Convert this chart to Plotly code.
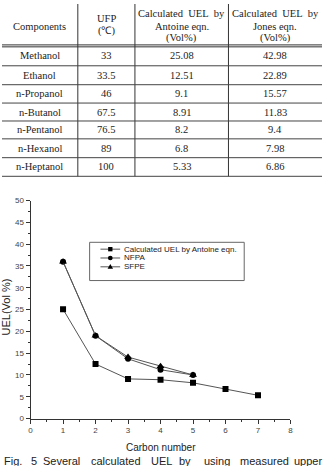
import plotly.graph_objects as go

# ---------------- data ----------------
components = ["Methanol", "Ethanol", "n-Propanol", "n-Butanol", "n-Pentanol", "n-Hexanol", "n-Heptanol"]
ufp = ["33", "33.5", "46", "67.5", "76.5", "89", "100"]
antoine_uel = [25.08, 12.51, 9.1, 8.91, 8.2, 6.8, 5.33]
jones_uel = [42.98, 22.89, 15.57, 11.83, 9.4, 7.98, 6.86]
carbon = [1, 2, 3, 4, 5, 6, 7]
ref_carbon = [1, 2, 3, 4, 5]
nfpa_uel = [36, 19, 13.7, 11.2, 10.0]
sfpe_uel = [36, 19, 14.1, 12.0, 10.0]
x_ticks = [0, 1, 2, 3, 4, 5, 6, 7, 8]
y_ticks = [0, 5, 10, 15, 20, 25, 30, 35, 40, 45, 50]

# ---------------- layout helpers ----------------
W, H = 325, 466
def px(x):
    return x / W
def py(y):
    return 1 - y / H

SERIF = "Liberation Serif"
SANS = "Liberation Sans"
TXT = "#222"

fig = go.Figure()

line_col = "#555"
fig.add_trace(go.Scatter(x=carbon, y=antoine_uel, mode="lines+markers",
                         line=dict(color=line_col, width=1),
                         marker=dict(symbol="square", size=6, color="black"),
                         name="Calculated UEL by Antoine eqn.", showlegend=False))
fig.add_trace(go.Scatter(x=ref_carbon, y=nfpa_uel, mode="lines+markers",
                         line=dict(color=line_col, width=1),
                         marker=dict(symbol="circle", size=6, color="black"),
                         name="NFPA", showlegend=False))
fig.add_trace(go.Scatter(x=ref_carbon, y=sfpe_uel, mode="lines+markers",
                         line=dict(color=line_col, width=1),
                         marker=dict(symbol="triangle-up", size=7, color="black"),
                         name="SFPE", showlegend=False))

shapes = []
annotations = []

# ---------------- table ----------------
col_x = [0, 77, 135, 230, 325]
row_y = [0, 42.7, 63, 82.3, 101, 119.3, 137.5, 156.7, 175.7]
for cx in col_x[1:-1]:
    shapes.append(dict(type="line", xref="paper", yref="paper",
                       x0=px(cx), x1=px(cx), y0=py(0), y1=py(row_y[-1]),
                       line=dict(color="#333", width=1)))
# header double line
shapes.append(dict(type="line", xref="paper", yref="paper",
                   x0=0, x1=1, y0=py(row_y[1] - 1), y1=py(row_y[1] - 1),
                   line=dict(color="#333", width=1)))
shapes.append(dict(type="line", xref="paper", yref="paper",
                   x0=0, x1=1, y0=py(row_y[1] + 1), y1=py(row_y[1] + 1),
                   line=dict(color="#333", width=1)))
for ry in row_y[2:]:
    shapes.append(dict(type="line", xref="paper", yref="paper",
                       x0=0, x1=1, y0=py(ry), y1=py(ry),
                       line=dict(color="#444", width=1)))

def cell_text(text, cx, cy, size=10.5, family=SERIF):
    annotations.append(dict(text=text, xref="paper", yref="paper",
                            x=px(cx), y=py(cy), xanchor="center", yanchor="middle",
                            showarrow=False, font=dict(family=family, size=size, color=TXT)))

centers = [(col_x[i] + col_x[i + 1]) / 2 for i in range(4)]
cell_text("Components", centers[0], 22.5)
cell_text("UFP", centers[1], 15)
cell_text("(℃)", centers[1], 28)
cell_text("Calculated\u00a0 UEL\u00a0 by", centers[2], 10)
cell_text("Antoine eqn.", centers[2], 22.5)
cell_text("(Vol%)", centers[2], 34.5)
cell_text("Calculated\u00a0 UEL\u00a0 by", centers[3], 10)
cell_text("Jones eqn.", centers[3], 22.5)
cell_text("(Vol%)", centers[3], 34.5)
for i in range(len(components)):
    cy = (row_y[i + 1] + row_y[i + 2]) / 2
    cell_text(components[i], centers[0], cy)
    cell_text(ufp[i], centers[1], cy)
    cell_text(f"{antoine_uel[i]:g}", centers[2], cy)
    cell_text(f"{jones_uel[i]:g}", centers[3], cy)

# ---------------- chart axes ----------------
x0_px, x1_px = 29, 293
y0_px, y1_px = 422.7, 200.5
axis_col = "#333"
fig.update_xaxes(domain=[px(x0_px), px(x1_px)], range=[0, 8],
                 tickvals=x_ticks, ticks="outside", ticklen=4, tickcolor=axis_col,
                 showline=True, linecolor=axis_col, linewidth=1, showgrid=False, zeroline=False,
                 tickfont=dict(family=SANS, size=8, color="#444"),
                 minor=dict(dtick=0.5, tick0=0, ticks="outside", ticklen=2, tickcolor=axis_col),
                 fixedrange=True)
fig.update_yaxes(domain=[py(y0_px), py(y1_px)], range=[0, 50],
                 tickvals=y_ticks, ticks="outside", ticklen=4, tickcolor=axis_col,
                 showline=True, linecolor=axis_col, linewidth=1, showgrid=False, zeroline=False,
                 tickfont=dict(family=SANS, size=8, color="#444"),
                 minor=dict(dtick=2.5, tick0=0, ticks="outside", ticklen=2, tickcolor=axis_col),
                 fixedrange=True)

annotations.append(dict(text="Carbon number", xref="paper", yref="paper",
                        x=px((x0_px + x1_px) / 2 + 0.5), y=py(452), xanchor="center", yanchor="middle",
                        showarrow=False, font=dict(family=SANS, size=10, color=TXT)))
annotations.append(dict(text="UEL(Vol %)", xref="paper", yref="paper", textangle=-90,
                        x=px(4.5), y=py(309), xanchor="center", yanchor="middle",
                        showarrow=False, font=dict(family=SANS, size=11, color=TXT)))

# ---------------- legend (manual) ----------------
shapes.append(dict(type="rect", xref="paper", yref="paper",
                   x0=px(89), x1=px(246), y0=py(243), y1=py(282),
                   line=dict(color="#666", width=1), fillcolor="white", layer="above"))
legend_names = ["Calculated UEL by Antoine eqn.", "NFPA", "SFPE"]
legend_y = [250, 259, 268]
for name, ly, sym in zip(legend_names, legend_y, ["square", "circle", "triangle"]):
    shapes.append(dict(type="line", xref="paper", yref="paper", layer="above",
                       x0=px(100), x1=px(120), y0=py(ly), y1=py(ly),
                       line=dict(color=line_col, width=1)))
    if sym == "square":
        shapes.append(dict(type="rect", xref="paper", yref="paper", layer="above",
                           x0=px(107.8), x1=px(112.2), y0=py(ly - 2.2), y1=py(ly + 2.2),
                           fillcolor="black", line=dict(width=0)))
    elif sym == "circle":
        shapes.append(dict(type="circle", xref="paper", yref="paper", layer="above",
                           x0=px(107.6), x1=px(112.4), y0=py(ly - 2.4), y1=py(ly + 2.4),
                           fillcolor="black", line=dict(width=0)))
    else:
        path = (f"M {px(110)},{py(ly - 3)} L {px(112.8)},{py(ly + 2)} "
                f"L {px(107.2)},{py(ly + 2)} Z")
        shapes.append(dict(type="path", xref="paper", yref="paper", layer="above",
                           path=path, fillcolor="black", line=dict(width=0)))
    annotations.append(dict(text=name, xref="paper", yref="paper",
                            x=px(121.5), y=py(ly), xanchor="left", yanchor="middle",
                            showarrow=False, font=dict(family=SANS, size=8, color=TXT)))

# ---------------- caption (cut at bottom, as in the reference) ----------------
cap_words = ["Fig.", "5", "Several", "calculated", "UEL", "by", "using", "measured", "upper"]
cap_x = [0, 27, 40, 88, 149, 178, 203, 240, 295]
for wd, cx in zip(cap_words, cap_x):
    annotations.append(dict(text=wd, xref="paper", yref="paper",
                            x=px(cx), y=py(466), xanchor="left", yanchor="middle",
                            showarrow=False,
                            font=dict(family=SANS, size=11, color=TXT)))

fig.update_layout(width=W, height=H, margin=dict(l=0, r=0, t=0, b=0),
                  paper_bgcolor="white", plot_bgcolor="white",
                  shapes=shapes, annotations=annotations, showlegend=False)

fig.write_html("out.html", config={"displayModeBar": False})
